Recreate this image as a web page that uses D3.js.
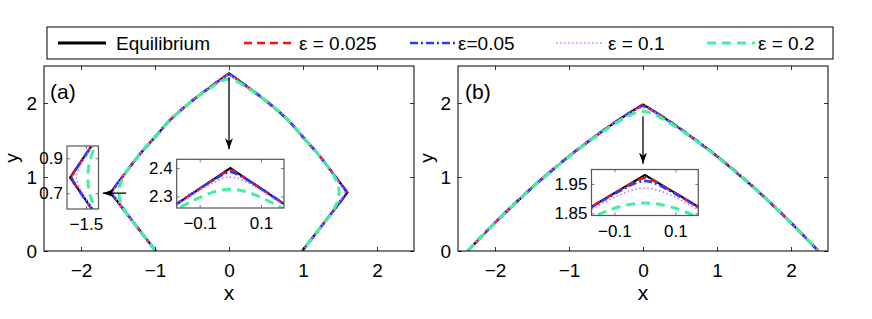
<!DOCTYPE html>
<html>
<head>
<meta charset="utf-8">
<script src="https://cdn.jsdelivr.net/npm/d3@7"></script>
<style>
body { margin: 0; background: #fff; }
text { font-family: Arial, "Liberation Sans", Helvetica, sans-serif; fill: #000; }
</style>
</head>
<body>
<div id="chart"></div>
<script>
// series names, one per line type
var seriesNames = ["Equilibrium", "ε = 0.025", "ε=0.05", "ε = 0.1", "ε = 0.2"];

// panel (a): closed-ish curve, listed from bottom-left round to bottom-right
var eqA = [[-0.99,0],[-1.2,0.27],[-1.4,0.53],[-1.6,0.79],[-1.4,1.055],[-1.2,1.315],[-1.0,1.54],[-0.8,1.767],[-0.6,1.947],[-0.4,2.107],[-0.2,2.255],[0,2.40],
           [0.2,2.255],[0.4,2.107],[0.6,1.947],[0.8,1.767],[1.0,1.54],[1.2,1.315],[1.4,1.055],[1.6,0.79],[1.4,0.53],[1.2,0.27],[0.99,0]];
var e025A = [[-0.99,0],[-1.2,0.27],[-1.4,0.53],[-1.562,0.74],[-1.584,0.77],[-1.595,0.79],[-1.584,0.81],[-1.562,0.84],[-1.4,1.055],[-1.2,1.315],[-1.0,1.54],[-0.8,1.767],[-0.6,1.947],[-0.4,2.107],[-0.2,2.255],[-0.1,2.328],[-0.05,2.363],[-0.025,2.38],[0,2.392],
             [0.025,2.38],[0.05,2.363],[0.1,2.328],[0.2,2.255],[0.4,2.107],[0.6,1.947],[0.8,1.767],[1.0,1.54],[1.2,1.315],[1.4,1.055],[1.562,0.84],[1.584,0.81],[1.595,0.79],[1.584,0.77],[1.562,0.74],[1.4,0.53],[1.2,0.27],[0.99,0]];
var e05A = [[-0.99,0],[-1.2,0.27],[-1.4,0.53],[-1.523,0.69],[-1.5605,0.74],[-1.5814,0.77],[-1.589,0.79],[-1.5814,0.81],[-1.5605,0.84],[-1.523,0.89],[-1.4,1.055],[-1.2,1.315],[-1.0,1.54],[-0.8,1.767],[-0.6,1.947],[-0.4,2.107],[-0.2,2.255],[-0.15,2.291],[-0.1,2.327],[-0.05,2.3615],[-0.025,2.377],[0,2.386],
            [0.025,2.377],[0.05,2.3615],[0.1,2.327],[0.15,2.291],[0.2,2.255],[0.4,2.107],[0.6,1.947],[0.8,1.767],[1.0,1.54],[1.2,1.315],[1.4,1.055],[1.523,0.89],[1.5605,0.84],[1.5814,0.81],[1.589,0.79],[1.5814,0.77],[1.5605,0.74],[1.523,0.69],[1.4,0.53],[1.2,0.27],[0.99,0]];
var e1A = [[-0.99,0],[-1.2,0.27],[-1.4,0.53],[-1.479,0.64],[-1.514,0.69],[-1.540,0.73],[-1.554,0.76],[-1.5605,0.79],[-1.554,0.82],[-1.540,0.85],[-1.514,0.89],[-1.479,0.94],[-1.4,1.055],[-1.2,1.315],[-1.0,1.54],[-0.8,1.767],[-0.6,1.947],[-0.4,2.107],[-0.3,2.182],[-0.2,2.253],[-0.15,2.287],[-0.1,2.321],[-0.075,2.337],[-0.05,2.352],[-0.025,2.364],[0,2.368],
           [0.025,2.364],[0.05,2.352],[0.075,2.337],[0.1,2.321],[0.15,2.287],[0.2,2.253],[0.3,2.182],[0.4,2.107],[0.6,1.947],[0.8,1.767],[1.0,1.54],[1.2,1.315],[1.4,1.055],[1.479,0.94],[1.514,0.89],[1.540,0.85],[1.554,0.82],[1.5605,0.79],[1.554,0.76],[1.540,0.73],[1.514,0.69],[1.479,0.64],[1.4,0.53],[1.2,0.27],[0.99,0]];
var e2A = [[-0.99,0],[-1.2,0.27],[-1.4,0.53],[-1.43,0.59],[-1.455,0.64],[-1.474,0.69],[-1.484,0.74],[-1.487,0.79],[-1.484,0.84],[-1.474,0.89],[-1.455,0.94],[-1.43,0.99],[-1.4,1.055],[-1.2,1.315],[-1.0,1.54],[-0.8,1.767],[-0.6,1.947],[-0.4,2.102],[-0.3,2.171],[-0.2,2.238],[-0.15,2.269],[-0.1,2.296],[-0.05,2.317],[0,2.325],
           [0.05,2.317],[0.1,2.296],[0.15,2.269],[0.2,2.238],[0.3,2.171],[0.4,2.102],[0.6,1.947],[0.8,1.767],[1.0,1.54],[1.2,1.315],[1.4,1.055],[1.43,0.99],[1.455,0.94],[1.474,0.89],[1.484,0.84],[1.487,0.79],[1.484,0.74],[1.474,0.69],[1.455,0.64],[1.43,0.59],[1.4,0.53],[1.2,0.27],[0.99,0]];

// panel (b): single peak
var eqB = [[-2.37,0],[-2,0.383],[-1.5,0.857],[-1,1.281],[-0.5,1.655],[-0.3,1.791],[-0.15,1.888],[0,1.98],[0.15,1.888],[0.3,1.791],[0.5,1.655],[1,1.281],[1.5,0.857],[2,0.383],[2.37,0]];
var e025B = [[-2.37,0],[-2,0.383],[-1.5,0.857],[-1,1.281],[-0.5,1.655],[-0.3,1.791],[-0.2,1.856],[-0.15,1.887],[-0.1,1.918],[-0.05,1.948],[-0.025,1.962],[0,1.970],
             [0.025,1.962],[0.05,1.948],[0.1,1.918],[0.15,1.887],[0.2,1.856],[0.3,1.791],[0.5,1.655],[1,1.281],[1.5,0.857],[2,0.383],[2.37,0]];
var e05B = [[-2.37,0],[-2,0.383],[-1.5,0.857],[-1,1.281],[-0.5,1.655],[-0.3,1.790],[-0.2,1.854],[-0.15,1.886],[-0.1,1.916],[-0.075,1.930],[-0.05,1.944],[-0.025,1.955],[0,1.960],
            [0.025,1.955],[0.05,1.944],[0.075,1.930],[0.1,1.916],[0.15,1.886],[0.2,1.854],[0.3,1.790],[0.5,1.655],[1,1.281],[1.5,0.857],[2,0.383],[2.37,0]];
var e1B = [[-2.37,0],[-2,0.383],[-1.5,0.857],[-1,1.281],[-0.5,1.652],[-0.3,1.786],[-0.2,1.848],[-0.15,1.877],[-0.1,1.904],[-0.075,1.916],[-0.05,1.926],[-0.025,1.933],[0,1.935],
           [0.025,1.933],[0.05,1.926],[0.075,1.916],[0.1,1.904],[0.15,1.877],[0.2,1.848],[0.3,1.786],[0.5,1.652],[1,1.281],[1.5,0.857],[2,0.383],[2.37,0]];
var e2B = [[-2.37,0],[-2,0.379],[-1.5,0.852],[-1,1.273],[-0.5,1.641],[-0.3,1.768],[-0.2,1.823],[-0.15,1.847],[-0.1,1.867],[-0.05,1.880],[0,1.885],
           [0.05,1.880],[0.1,1.867],[0.15,1.847],[0.2,1.823],[0.3,1.768],[0.5,1.641],[1,1.273],[1.5,0.852],[2,0.379],[2.37,0]];

// tick values
var xTicksMain = [-2, -1, 0, 1, 2];
var yTicksMain = [0, 1, 2];
var xTicksInA1 = [-1.5], yTicksInA1 = [0.7, 0.9];
var xTicksInA2 = [-0.1, 0.1], yTicksInA2 = [2.3, 2.4];
var xTicksInB = [-0.1, 0.1], yTicksInB = [1.85, 1.95];

// line styles (same order as seriesNames)
var styles = [
    {color: "#000000", width: 2.2, dash: null},
    {color: "#ff1010", width: 2.6, dash: "8,5"},
    {color: "#2438ff", width: 2.6, dash: "8,3,2,3"},
    {color: "#c477ff", width: 1.6, dash: "1.5,2.5"},
    {color: "#3ff0a2", width: 3.0, dash: "9,6"}
];

var svg = d3.select("#chart").append("svg")
    .attr("width", 872).attr("height", 319);
var defs = svg.append("defs");
var clipCount = 0;

defs.append("marker")
    .attr("id", "arrowhead")
    .attr("markerUnits", "userSpaceOnUse")
    .attr("markerWidth", 12).attr("markerHeight", 8)
    .attr("refX", 11).attr("refY", 4)
    .attr("orient", "auto")
    .append("path")
    .attr("d", "M0,0 L11,4 L0,8 L3,4 Z")
    .attr("fill", "#000");

// Build one set of axes: box is [left, top, right, bottom] in pixels
function makeAxes(box, xDom, yDom, opts) {
    var ax = {};
    ax.x = d3.scaleLinear().domain(xDom).range([box[0], box[2]]);
    ax.y = d3.scaleLinear().domain(yDom).range([box[3], box[1]]);
    ax.g = svg.append("g");
    var id = "clip" + (clipCount++);
    defs.append("clipPath").attr("id", id).append("rect")
        .attr("x", box[0]).attr("y", box[1])
        .attr("width", box[2] - box[0]).attr("height", box[3] - box[1]);

    ax.g.append("rect")
        .attr("x", box[0]).attr("y", box[1])
        .attr("width", box[2] - box[0]).attr("height", box[3] - box[1])
        .attr("fill", "#fff");

    ax.plot = ax.g.append("g").attr("clip-path", "url(#" + id + ")");

    var fs = opts.fontSize;
    var tk = opts.tickLen;
    var bottom = ax.g.append("g").attr("transform", "translate(0," + box[3] + ")")
        .call(d3.axisBottom(ax.x).tickValues(opts.xTicks).tickSize(-tk).tickPadding(opts.xPad).tickFormat(opts.xFmt));
    var left = ax.g.append("g").attr("transform", "translate(" + box[0] + ",0)")
        .call(d3.axisLeft(ax.y).tickValues(opts.yTicks).tickSize(-tk).tickPadding(opts.yPad).tickFormat(opts.yFmt));
    var top = ax.g.append("g").attr("transform", "translate(0," + box[1] + ")")
        .call(d3.axisTop(ax.x).tickValues(opts.xTicks).tickSize(-tk).tickFormat(""));
    var right = ax.g.append("g").attr("transform", "translate(" + box[2] + ",0)")
        .call(d3.axisRight(ax.y).tickValues(opts.yTicks).tickSize(-tk).tickFormat(""));
    [bottom, left, top, right].forEach(function(a) {
        a.select(".domain").remove();
        a.selectAll(".tick line").attr("stroke", opts.frame).attr("stroke-width", 0.8);
        a.selectAll(".tick text").attr("font-size", fs).attr("font-family", "Arial, 'Liberation Sans', sans-serif").attr("fill", "#000");
    });

    ax.frame = ax.g.append("rect")
        .attr("x", box[0]).attr("y", box[1])
        .attr("width", box[2] - box[0]).attr("height", box[3] - box[1])
        .attr("fill", "none").attr("stroke", opts.frame).attr("stroke-width", opts.frameWidth);
    return ax;
}

function drawSeries(ax, list, smooth) {
    list.forEach(function(data, i) {
        var st = styles[i];
        var curve = (i === 0) ? d3.curveLinear : smooth;
        var line = d3.line()
            .x(function(d) { return ax.x(d[0]); })
            .y(function(d) { return ax.y(d[1]); })
            .curve(curve);
        ax.plot.append("path")
            .datum(data)
            .attr("d", line)
            .attr("fill", "none")
            .attr("stroke", st.color)
            .attr("stroke-width", st.width)
            .attr("stroke-dasharray", st.dash)
            .attr("stroke-linejoin", "miter");
    });
}

function arrow(ax, x1, y1, x2, y2) {
    svg.append("line")
        .attr("x1", ax.x(x1)).attr("y1", ax.y(y1))
        .attr("x2", ax.x(x2)).attr("y2", ax.y(y2))
        .attr("stroke", "#000").attr("stroke-width", 1.3)
        .attr("marker-end", "url(#arrowhead)");
}

var fmt0 = d3.format("d");
var fmt1 = d3.format(".1f");
var fmt2 = d3.format(".2f");

var mainOpts = {fontSize: 19, tickLen: 4, xPad: 13, yPad: 7, frame: "#000", frameWidth: 1, xFmt: fmt0, yFmt: fmt0};
var listA = [eqA, e025A, e05A, e1A, e2A];
var listB = [eqB, e025B, e05B, e1B, e2B];
var smoothA = d3.curveCatmullRom.alpha(0.5);
var smoothB = d3.curveMonotoneX;

// ----- panel (a)
var axA = makeAxes([44, 66, 414, 251], [-2.5, 2.5], [0, 2.5], Object.assign({xTicks: xTicksMain, yTicks: yTicksMain}, mainOpts));
drawSeries(axA, listA, smoothA);
axA.g.append("text").attr("x", 50).attr("y", 99).attr("font-size", 21).text("(a)");
arrow(axA, 0, 2.345, 0, 1.375);
arrow(axA, -1.39, 0.782, -1.706, 0.782);

// ----- panel (b)
var axB = makeAxes([458, 66, 828, 251], [-2.5, 2.5], [0, 2.5], Object.assign({xTicks: xTicksMain, yTicks: yTicksMain}, mainOpts));
drawSeries(axB, listB, smoothB);
axB.g.append("text").attr("x", 465).attr("y", 99).attr("font-size", 21).text("(b)");
arrow(axB, 0, 1.82, 0, 1.18);

// axis labels
[[229, "x"], [643, "x"]].forEach(function(d) {
    svg.append("text").attr("x", d[0]).attr("y", 300).attr("text-anchor", "middle").attr("font-size", 21).text(d[1]);
});
[[18, 158], [433, 158]].forEach(function(d) {
    svg.append("text").attr("transform", "translate(" + d[0] + "," + d[1] + ") rotate(-90)")
        .attr("text-anchor", "middle").attr("font-size", 19).text("y");
});

// ----- insets
var inOpts = {fontSize: 17, tickLen: 3, xPad: 9, yPad: 4, frame: "#555", frameWidth: 1.2, xFmt: fmt1, yFmt: fmt1};
var inA1 = makeAxes([67, 146, 98.5, 209], [-1.62, -1.42], [0.61, 0.97], Object.assign({}, inOpts, {xTicks: xTicksInA1, yTicks: yTicksInA1}));
drawSeries(inA1, listA, smoothA);
var inA2 = makeAxes([176.7, 159.3, 284, 208], [-0.175, 0.175], [2.259, 2.431], Object.assign({}, inOpts, {xTicks: xTicksInA2, yTicks: yTicksInA2}));
drawSeries(inA2, listA, smoothA);
var inB = makeAxes([591.5, 169.5, 698.3, 215.5], [-0.175, 0.175], [1.8425, 1.999], Object.assign({}, inOpts, {xTicks: xTicksInB, yTicks: yTicksInB, yFmt: fmt2}));
drawSeries(inB, listB, smoothB);

// ----- legend
var legend = svg.append("g");
legend.append("rect").attr("x", 47).attr("y", 27).attr("width", 786).attr("height", 32)
    .attr("fill", "#fff").attr("stroke", "#000").attr("stroke-width", 1);
var legLineX = [58, 244, 410, 556, 707];
var legTextX = [116, 299, 458, 608, 758];
seriesNames.forEach(function(name, i) {
    var st = styles[i];
    legend.append("line")
        .attr("x1", legLineX[i]).attr("x2", legLineX[i] + 48)
        .attr("y1", 43).attr("y2", 43)
        .attr("stroke", st.color)
        .attr("stroke-width", i === 0 ? 3 : st.width)
        .attr("stroke-dasharray", st.dash);
    legend.append("text")
        .attr("x", legTextX[i]).attr("y", 50)
        .attr("font-size", 19)
        .text(name);
});
</script>
</body>
</html>
